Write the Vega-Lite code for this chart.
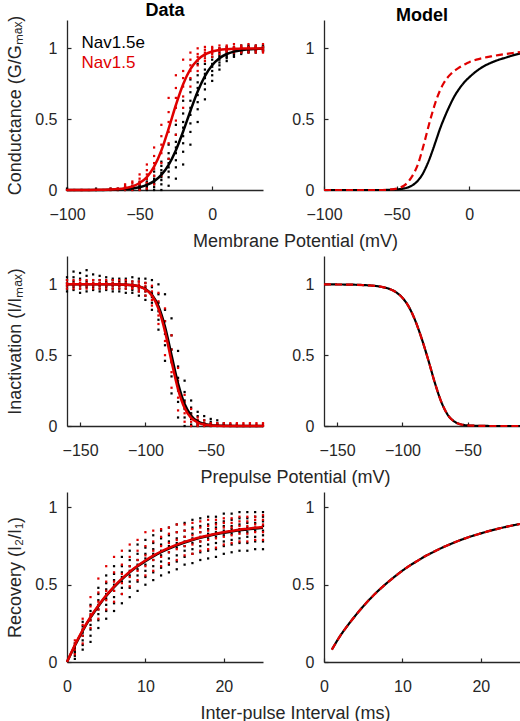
{
"$schema":"https://vega.github.io/schema/vega-lite/v6.json",
"background":"white",
"padding":{"left":5,"top":2,"right":0,"bottom":0},
"columns":2,
"spacing":{"row":66,"column":61},
"bounds":"flush",
"datasets":{
"cde":[{"x":-100,"y":0},{"x":-100,"y":0.01},{"x":-95,"y":0},{"x":-90,"y":0},{"x":-85,"y":0},{"x":-80,"y":0},{"x":-80,"y":0.01},{"x":-75,"y":0},{"x":-70,"y":0},{"x":-70,"y":0.01},{"x":-65,"y":0},{"x":-65,"y":0.01},{"x":-60,"y":0},{"x":-60,"y":0.01},{"x":-60,"y":0.02},
{"x":-55,"y":0},{"x":-55,"y":0.005},{"x":-55,"y":0.01},{"x":-55,"y":0.015},{"x":-55,"y":0.03},
{"x":-50,"y":0},{"x":-50,"y":0.005},{"x":-50,"y":0.01},{"x":-50,"y":0.015},{"x":-50,"y":0.025},{"x":-50,"y":0.03},{"x":-50,"y":0.04},{"x":-50,"y":0.055},
{"x":-45,"y":0},{"x":-45,"y":0.01},{"x":-45,"y":0.02},{"x":-45,"y":0.03},{"x":-45,"y":0.04},{"x":-45,"y":0.05},{"x":-45,"y":0.06},{"x":-45,"y":0.08},
{"x":-40,"y":0},{"x":-40,"y":0.02},{"x":-40,"y":0.04},{"x":-40,"y":0.05},{"x":-40,"y":0.07},{"x":-40,"y":0.08},{"x":-40,"y":0.1},{"x":-40,"y":0.13},
{"x":-35,"y":0},{"x":-35,"y":0.04},{"x":-35,"y":0.07},{"x":-35,"y":0.09},{"x":-35,"y":0.12},{"x":-35,"y":0.14},{"x":-35,"y":0.17},{"x":-35,"y":0.2},
{"x":-30,"y":0.03},{"x":-30,"y":0.09},{"x":-30,"y":0.13},{"x":-30,"y":0.16},{"x":-30,"y":0.19},{"x":-30,"y":0.22},{"x":-30,"y":0.26},{"x":-30,"y":0.32},
{"x":-25,"y":0.08},{"x":-25,"y":0.16},{"x":-25,"y":0.21},{"x":-25,"y":0.26},{"x":-25,"y":0.3},{"x":-25,"y":0.34},{"x":-25,"y":0.39},{"x":-25,"y":0.46},
{"x":-20,"y":0.18},{"x":-20,"y":0.27},{"x":-20,"y":0.33},{"x":-20,"y":0.38},{"x":-20,"y":0.44},{"x":-20,"y":0.48},{"x":-20,"y":0.54},{"x":-20,"y":0.63},
{"x":-15,"y":0.32},{"x":-15,"y":0.41},{"x":-15,"y":0.47},{"x":-15,"y":0.53},{"x":-15,"y":0.58},{"x":-15,"y":0.63},{"x":-15,"y":0.69},{"x":-15,"y":0.78},
{"x":-10,"y":0.48},{"x":-10,"y":0.57},{"x":-10,"y":0.62},{"x":-10,"y":0.67},{"x":-10,"y":0.72},{"x":-10,"y":0.76},{"x":-10,"y":0.81},{"x":-10,"y":0.89},
{"x":-5,"y":0.64},{"x":-5,"y":0.71},{"x":-5,"y":0.75},{"x":-5,"y":0.79},{"x":-5,"y":0.82},{"x":-5,"y":0.85},{"x":-5,"y":0.89},{"x":-5,"y":0.95},
{"x":0,"y":0.77},{"x":0,"y":0.81},{"x":0,"y":0.84},{"x":0,"y":0.87},{"x":0,"y":0.89},{"x":0,"y":0.92},{"x":0,"y":0.94},{"x":0,"y":0.98},
{"x":5,"y":0.85},{"x":5,"y":0.88},{"x":5,"y":0.9},{"x":5,"y":0.92},{"x":5,"y":0.94},{"x":5,"y":0.95},{"x":5,"y":0.97},{"x":5,"y":1.0},
{"x":10,"y":0.91},{"x":10,"y":0.93},{"x":10,"y":0.94},{"x":10,"y":0.95},{"x":10,"y":0.97},{"x":10,"y":0.98},{"x":10,"y":0.99},{"x":10,"y":1.01},
{"x":15,"y":0.94},{"x":15,"y":0.95},{"x":15,"y":0.96},{"x":15,"y":0.97},{"x":15,"y":0.98},{"x":15,"y":0.99},{"x":15,"y":1.0},{"x":15,"y":1.01},
{"x":20,"y":0.96},{"x":20,"y":0.97},{"x":20,"y":0.975},{"x":20,"y":0.98},{"x":20,"y":0.99},{"x":20,"y":1.0},{"x":20,"y":1.005},{"x":20,"y":1.02},
{"x":25,"y":0.97},{"x":25,"y":0.975},{"x":25,"y":0.98},{"x":25,"y":0.99},{"x":25,"y":1.0},{"x":25,"y":1.005},{"x":25,"y":1.01},{"x":25,"y":1.02},
{"x":30,"y":0.97},{"x":30,"y":0.98},{"x":30,"y":0.99},{"x":30,"y":0.995},{"x":30,"y":1.0},{"x":30,"y":1.005},{"x":30,"y":1.01},{"x":30,"y":1.02},
{"x":35,"y":0.98},{"x":35,"y":0.985},{"x":35,"y":0.99},{"x":35,"y":1.0},{"x":35,"y":1.005},{"x":35,"y":1.01},{"x":35,"y":1.015},{"x":35,"y":1.02}],
"cdw":[{"x":-100,"y":0},{"x":-90,"y":0},{"x":-80,"y":0},{"x":-70,"y":0},{"x":-70,"y":0.01},{"x":-65,"y":0},{"x":-65,"y":0.01},
{"x":-60,"y":0},{"x":-60,"y":0.005},{"x":-60,"y":0.01},{"x":-60,"y":0.02},{"x":-60,"y":0.03},{"x":-60,"y":0.04},
{"x":-55,"y":0},{"x":-55,"y":0.01},{"x":-55,"y":0.02},{"x":-55,"y":0.03},{"x":-55,"y":0.05},{"x":-55,"y":0.06},
{"x":-50,"y":0},{"x":-50,"y":0.02},{"x":-50,"y":0.04},{"x":-50,"y":0.06},{"x":-50,"y":0.08},{"x":-50,"y":0.11},
{"x":-45,"y":0.01},{"x":-45,"y":0.05},{"x":-45,"y":0.08},{"x":-45,"y":0.11},{"x":-45,"y":0.14},{"x":-45,"y":0.18},
{"x":-40,"y":0.04},{"x":-40,"y":0.1},{"x":-40,"y":0.15},{"x":-40,"y":0.19},{"x":-40,"y":0.24},{"x":-40,"y":0.3},
{"x":-35,"y":0.1},{"x":-35,"y":0.19},{"x":-35,"y":0.26},{"x":-35,"y":0.32},{"x":-35,"y":0.38},{"x":-35,"y":0.46},
{"x":-30,"y":0.22},{"x":-30,"y":0.33},{"x":-30,"y":0.41},{"x":-30,"y":0.48},{"x":-30,"y":0.55},{"x":-30,"y":0.65},
{"x":-25,"y":0.39},{"x":-25,"y":0.49},{"x":-25,"y":0.58},{"x":-25,"y":0.65},{"x":-25,"y":0.72},{"x":-25,"y":0.81},
{"x":-20,"y":0.58},{"x":-20,"y":0.66},{"x":-20,"y":0.73},{"x":-20,"y":0.79},{"x":-20,"y":0.84},{"x":-20,"y":0.92},
{"x":-15,"y":0.73},{"x":-15,"y":0.79},{"x":-15,"y":0.84},{"x":-15,"y":0.88},{"x":-15,"y":0.92},{"x":-15,"y":0.97},
{"x":-10,"y":0.84},{"x":-10,"y":0.88},{"x":-10,"y":0.91},{"x":-10,"y":0.94},{"x":-10,"y":0.96},{"x":-10,"y":1.0},
{"x":-5,"y":0.91},{"x":-5,"y":0.93},{"x":-5,"y":0.95},{"x":-5,"y":0.97},{"x":-5,"y":0.99},{"x":-5,"y":1.01},
{"x":0,"y":0.94},{"x":0,"y":0.96},{"x":0,"y":0.97},{"x":0,"y":0.99},{"x":0,"y":1.0},{"x":0,"y":1.01},
{"x":5,"y":0.96},{"x":5,"y":0.98},{"x":5,"y":0.99},{"x":5,"y":0.995},{"x":5,"y":1.0},{"x":5,"y":1.02},
{"x":10,"y":0.97},{"x":10,"y":0.98},{"x":10,"y":0.99},{"x":10,"y":1.0},{"x":10,"y":1.01},{"x":10,"y":1.02},
{"x":15,"y":0.97},{"x":15,"y":0.98},{"x":15,"y":0.99},{"x":15,"y":1.0},{"x":15,"y":1.01},{"x":15,"y":1.03},
{"x":20,"y":0.97},{"x":20,"y":0.98},{"x":20,"y":0.99},{"x":20,"y":1.0},{"x":20,"y":1.01},{"x":20,"y":1.02},
{"x":25,"y":0.97},{"x":25,"y":0.98},{"x":25,"y":0.99},{"x":25,"y":1.0},{"x":25,"y":1.01},{"x":25,"y":1.03},
{"x":30,"y":0.97},{"x":30,"y":0.98},{"x":30,"y":0.99},{"x":30,"y":1.0},{"x":30,"y":1.01},{"x":30,"y":1.02},
{"x":35,"y":0.97},{"x":35,"y":0.98},{"x":35,"y":0.99},{"x":35,"y":1.0},{"x":35,"y":1.01},{"x":35,"y":1.03}],
"cf":[{"x":-100,"y":0,"c":"e"},{"x":-90,"y":0.0002,"c":"e"},{"x":-80,"y":0.0006,"c":"e"},{"x":-70,"y":0.0019,"c":"e"},{"x":-65,"y":0.0035,"c":"e"},{"x":-60,"y":0.0063,"c":"e"},{"x":-55,"y":0.0113,"c":"e"},{"x":-50,"y":0.02,"c":"e"},{"x":-45,"y":0.036,"c":"e"},{"x":-40,"y":0.0625,"c":"e"},{"x":-35,"y":0.107,"c":"e"},{"x":-30,"y":0.178,"c":"e"},{"x":-25,"y":0.281,"c":"e"},{"x":-20,"y":0.413,"c":"e"},{"x":-15,"y":0.558,"c":"e"},{"x":-10,"y":0.695,"c":"e"},{"x":-5,"y":0.804,"c":"e"},{"x":0,"y":0.881,"c":"e"},{"x":5,"y":0.93,"c":"e"},{"x":10,"y":0.96,"c":"e"},{"x":15,"y":0.977,"c":"e"},{"x":20,"y":0.987,"c":"e"},{"x":25,"y":0.993,"c":"e"},{"x":30,"y":0.996,"c":"e"},{"x":35,"y":0.998,"c":"e"},
{"x":-100,"y":0.0001,"c":"w"},{"x":-90,"y":0.0002,"c":"w"},{"x":-80,"y":0.0009,"c":"w"},{"x":-70,"y":0.0034,"c":"w"},{"x":-65,"y":0.0067,"c":"w"},{"x":-60,"y":0.013,"c":"w"},{"x":-55,"y":0.025,"c":"w"},{"x":-50,"y":0.049,"c":"w"},{"x":-45,"y":0.091,"c":"w"},{"x":-40,"y":0.165,"c":"w"},{"x":-35,"y":0.279,"c":"w"},{"x":-30,"y":0.433,"c":"w"},{"x":-25,"y":0.6,"c":"w"},{"x":-20,"y":0.747,"c":"w"},{"x":-15,"y":0.853,"c":"w"},{"x":-10,"y":0.919,"c":"w"},{"x":-5,"y":0.957,"c":"w"},{"x":0,"y":0.978,"c":"w"},{"x":5,"y":0.989,"c":"w"},{"x":10,"y":0.994,"c":"w"},{"x":15,"y":0.997,"c":"w"},{"x":20,"y":0.998,"c":"w"},{"x":25,"y":0.999,"c":"w"},{"x":30,"y":0.999,"c":"w"},{"x":35,"y":0.999,"c":"w"}],
"cm":[{"x":-100,"y":0,"c":"e"},{"x":-80,"y":0,"c":"e"},{"x":-60,"y":0,"c":"e"},{"x":-55,"y":0.001,"c":"e"},{"x":-50,"y":0.004,"c":"e"},{"x":-45,"y":0.011,"c":"e"},{"x":-40,"y":0.028,"c":"e"},{"x":-37.5,"y":0.045,"c":"e"},{"x":-35,"y":0.07,"c":"e"},{"x":-32.5,"y":0.105,"c":"e"},{"x":-30,"y":0.155,"c":"e"},{"x":-27.5,"y":0.215,"c":"e"},{"x":-25,"y":0.285,"c":"e"},{"x":-22.5,"y":0.36,"c":"e"},{"x":-20,"y":0.435,"c":"e"},{"x":-17.5,"y":0.5,"c":"e"},{"x":-15,"y":0.56,"c":"e"},{"x":-12.5,"y":0.615,"c":"e"},{"x":-10,"y":0.665,"c":"e"},{"x":-7.5,"y":0.705,"c":"e"},{"x":-5,"y":0.74,"c":"e"},{"x":-2.5,"y":0.77,"c":"e"},{"x":0,"y":0.795,"c":"e"},{"x":5,"y":0.839,"c":"e"},{"x":10,"y":0.873,"c":"e"},{"x":15,"y":0.898,"c":"e"},{"x":20,"y":0.918,"c":"e"},{"x":25,"y":0.934,"c":"e"},{"x":30,"y":0.95,"c":"e"},{"x":35,"y":0.963,"c":"e"},
{"x":-100,"y":0,"c":"w"},{"x":-80,"y":0,"c":"w"},{"x":-60,"y":0,"c":"w"},{"x":-55,"y":0.003,"c":"w"},{"x":-50,"y":0.01,"c":"w"},{"x":-45,"y":0.03,"c":"w"},{"x":-42.5,"y":0.052,"c":"w"},{"x":-40,"y":0.085,"c":"w"},{"x":-37.5,"y":0.13,"c":"w"},{"x":-35,"y":0.19,"c":"w"},{"x":-32.5,"y":0.275,"c":"w"},{"x":-30,"y":0.37,"c":"w"},{"x":-27.5,"y":0.47,"c":"w"},{"x":-25,"y":0.56,"c":"w"},{"x":-22.5,"y":0.64,"c":"w"},{"x":-20,"y":0.705,"c":"w"},{"x":-17.5,"y":0.755,"c":"w"},{"x":-15,"y":0.792,"c":"w"},{"x":-12.5,"y":0.82,"c":"w"},{"x":-10,"y":0.842,"c":"w"},{"x":-7.5,"y":0.86,"c":"w"},{"x":-5,"y":0.876,"c":"w"},{"x":-2.5,"y":0.89,"c":"w"},{"x":0,"y":0.902,"c":"w"},{"x":5,"y":0.92,"c":"w"},{"x":10,"y":0.933,"c":"w"},{"x":15,"y":0.943,"c":"w"},{"x":20,"y":0.952,"c":"w"},{"x":25,"y":0.96,"c":"w"},{"x":30,"y":0.967,"c":"w"},{"x":35,"y":0.974,"c":"w"}],
"lg":[{"x":-90,"y":1.0,"t":"Nav1.5e","c":"e"},{"x":-90,"y":0.86,"t":"Nav1.5","c":"w"}],
"ide":[{"x":-160,"y":0.95},{"x":-160,"y":0.97},{"x":-160,"y":0.99},{"x":-160,"y":1.01},{"x":-160,"y":1.03},{"x":-160,"y":1.05},
{"x":-155,"y":0.96},{"x":-155,"y":0.98},{"x":-155,"y":1.0},{"x":-155,"y":1.02},{"x":-155,"y":1.05},{"x":-155,"y":1.09},
{"x":-150,"y":0.94},{"x":-150,"y":0.97},{"x":-150,"y":0.99},{"x":-150,"y":1.01},{"x":-150,"y":1.04},{"x":-150,"y":1.08},
{"x":-145,"y":0.95},{"x":-145,"y":0.98},{"x":-145,"y":1.0},{"x":-145,"y":1.02},{"x":-145,"y":1.06},{"x":-145,"y":1.1},
{"x":-140,"y":0.96},{"x":-140,"y":0.98},{"x":-140,"y":1.0},{"x":-140,"y":1.01},{"x":-140,"y":1.03},{"x":-140,"y":1.07},
{"x":-135,"y":0.95},{"x":-135,"y":0.97},{"x":-135,"y":0.99},{"x":-135,"y":1.01},{"x":-135,"y":1.03},{"x":-135,"y":1.06},
{"x":-130,"y":0.96},{"x":-130,"y":0.98},{"x":-130,"y":0.99},{"x":-130,"y":1.01},{"x":-130,"y":1.02},{"x":-130,"y":1.05},
{"x":-125,"y":0.95},{"x":-125,"y":0.97},{"x":-125,"y":0.99},{"x":-125,"y":1.01},{"x":-125,"y":1.03},{"x":-125,"y":1.04},
{"x":-120,"y":0.95},{"x":-120,"y":0.97},{"x":-120,"y":0.99},{"x":-120,"y":1.0},{"x":-120,"y":1.02},{"x":-120,"y":1.04},
{"x":-115,"y":0.94},{"x":-115,"y":0.97},{"x":-115,"y":0.99},{"x":-115,"y":1.0},{"x":-115,"y":1.02},{"x":-115,"y":1.04},
{"x":-110,"y":0.94},{"x":-110,"y":0.96},{"x":-110,"y":0.98},{"x":-110,"y":1.0},{"x":-110,"y":1.02},{"x":-110,"y":1.05},
{"x":-105,"y":0.92},{"x":-105,"y":0.95},{"x":-105,"y":0.97},{"x":-105,"y":0.99},{"x":-105,"y":1.02},{"x":-105,"y":1.04},
{"x":-100,"y":0.89},{"x":-100,"y":0.92},{"x":-100,"y":0.95},{"x":-100,"y":0.98},{"x":-100,"y":1.01},{"x":-100,"y":1.04},
{"x":-95,"y":0.82},{"x":-95,"y":0.87},{"x":-95,"y":0.91},{"x":-95,"y":0.94},{"x":-95,"y":0.98},{"x":-95,"y":1.03},
{"x":-90,"y":0.68},{"x":-90,"y":0.75},{"x":-90,"y":0.81},{"x":-90,"y":0.87},{"x":-90,"y":0.93},{"x":-90,"y":1.0},
{"x":-85,"y":0.46},{"x":-85,"y":0.57},{"x":-85,"y":0.65},{"x":-85,"y":0.74},{"x":-85,"y":0.82},{"x":-85,"y":0.93},
{"x":-80,"y":0.23},{"x":-80,"y":0.35},{"x":-80,"y":0.45},{"x":-80,"y":0.54},{"x":-80,"y":0.64},{"x":-80,"y":0.76},
{"x":-75,"y":0.06},{"x":-75,"y":0.17},{"x":-75,"y":0.25},{"x":-75,"y":0.34},{"x":-75,"y":0.42},{"x":-75,"y":0.53},
{"x":-70,"y":0},{"x":-70,"y":0.06},{"x":-70,"y":0.12},{"x":-70,"y":0.18},{"x":-70,"y":0.24},{"x":-70,"y":0.32},
{"x":-65,"y":0},{"x":-65,"y":0.01},{"x":-65,"y":0.05},{"x":-65,"y":0.09},{"x":-65,"y":0.13},{"x":-65,"y":0.18},
{"x":-60,"y":0},{"x":-60,"y":0.01},{"x":-60,"y":0.02},{"x":-60,"y":0.04},{"x":-60,"y":0.07},{"x":-60,"y":0.1},
{"x":-55,"y":0},{"x":-55,"y":0.005},{"x":-55,"y":0.01},{"x":-55,"y":0.02},{"x":-55,"y":0.04},{"x":-55,"y":0.07},
{"x":-50,"y":0},{"x":-50,"y":0.005},{"x":-50,"y":0.01},{"x":-50,"y":0.015},{"x":-50,"y":0.03},{"x":-50,"y":0.05},
{"x":-45,"y":0},{"x":-45,"y":0.005},{"x":-45,"y":0.01},{"x":-45,"y":0.02},{"x":-45,"y":0.04},
{"x":-40,"y":0},{"x":-40,"y":0.01},{"x":-40,"y":0.02},{"x":-35,"y":0},{"x":-35,"y":0.01},{"x":-30,"y":0},{"x":-30,"y":0.01},{"x":-25,"y":0},{"x":-20,"y":0},{"x":-15,"y":0},{"x":-10,"y":0}],
"idw":[{"x":-160,"y":0.97},{"x":-160,"y":0.99},{"x":-160,"y":1.0},{"x":-160,"y":1.01},{"x":-160,"y":1.03},
{"x":-155,"y":0.97},{"x":-155,"y":0.99},{"x":-155,"y":1.0},{"x":-155,"y":1.01},{"x":-155,"y":1.03},
{"x":-150,"y":0.97},{"x":-150,"y":0.99},{"x":-150,"y":1.0},{"x":-150,"y":1.01},{"x":-150,"y":1.03},
{"x":-145,"y":0.97},{"x":-145,"y":0.99},{"x":-145,"y":1.0},{"x":-145,"y":1.01},{"x":-145,"y":1.03},
{"x":-140,"y":0.97},{"x":-140,"y":0.99},{"x":-140,"y":1.0},{"x":-140,"y":1.01},{"x":-140,"y":1.03},
{"x":-135,"y":0.97},{"x":-135,"y":0.99},{"x":-135,"y":1.0},{"x":-135,"y":1.01},{"x":-135,"y":1.03},
{"x":-130,"y":0.97},{"x":-130,"y":0.99},{"x":-130,"y":1.0},{"x":-130,"y":1.01},{"x":-130,"y":1.03},
{"x":-125,"y":0.97},{"x":-125,"y":0.99},{"x":-125,"y":1.0},{"x":-125,"y":1.01},{"x":-125,"y":1.03},
{"x":-120,"y":0.97},{"x":-120,"y":0.99},{"x":-120,"y":1.0},{"x":-120,"y":1.01},{"x":-120,"y":1.03},
{"x":-115,"y":0.97},{"x":-115,"y":0.99},{"x":-115,"y":1.0},{"x":-115,"y":1.01},{"x":-115,"y":1.03},
{"x":-110,"y":0.97},{"x":-110,"y":0.98},{"x":-110,"y":0.99},{"x":-110,"y":1.0},{"x":-110,"y":1.02},
{"x":-105,"y":0.95},{"x":-105,"y":0.97},{"x":-105,"y":0.985},{"x":-105,"y":1.0},{"x":-105,"y":1.02},
{"x":-100,"y":0.92},{"x":-100,"y":0.95},{"x":-100,"y":0.97},{"x":-100,"y":0.99},{"x":-100,"y":1.01},
{"x":-95,"y":0.85},{"x":-95,"y":0.89},{"x":-95,"y":0.92},{"x":-95,"y":0.95},{"x":-95,"y":0.99},
{"x":-90,"y":0.72},{"x":-90,"y":0.78},{"x":-90,"y":0.83},{"x":-90,"y":0.88},{"x":-90,"y":0.94},
{"x":-85,"y":0.5},{"x":-85,"y":0.6},{"x":-85,"y":0.67},{"x":-85,"y":0.74},{"x":-85,"y":0.83},
{"x":-80,"y":0.27},{"x":-80,"y":0.38},{"x":-80,"y":0.46},{"x":-80,"y":0.54},{"x":-80,"y":0.64},
{"x":-75,"y":0.11},{"x":-75,"y":0.2},{"x":-75,"y":0.26},{"x":-75,"y":0.32},{"x":-75,"y":0.41},
{"x":-70,"y":0.03},{"x":-70,"y":0.09},{"x":-70,"y":0.13},{"x":-70,"y":0.17},{"x":-70,"y":0.22},
{"x":-65,"y":0},{"x":-65,"y":0.03},{"x":-65,"y":0.06},{"x":-65,"y":0.08},{"x":-65,"y":0.12},
{"x":-60,"y":0},{"x":-60,"y":0.01},{"x":-60,"y":0.02},{"x":-60,"y":0.04},{"x":-60,"y":0.06},
{"x":-55,"y":0},{"x":-55,"y":0.005},{"x":-55,"y":0.01},{"x":-55,"y":0.02},{"x":-55,"y":0.04},
{"x":-50,"y":0},{"x":-50,"y":0.01},{"x":-50,"y":0.02},{"x":-45,"y":0},{"x":-45,"y":0.01},{"x":-45,"y":0.02},{"x":-40,"y":0},{"x":-40,"y":0.01},{"x":-40,"y":0.02},{"x":-35,"y":0},{"x":-35,"y":0.01},{"x":-35,"y":0.02},{"x":-30,"y":0},{"x":-30,"y":0.01},{"x":-30,"y":0.02},{"x":-25,"y":0},{"x":-25,"y":0.01},{"x":-25,"y":0.02},{"x":-20,"y":0},{"x":-20,"y":0.01},{"x":-20,"y":0.02},{"x":-15,"y":0},{"x":-15,"y":0.01},{"x":-15,"y":0.02},{"x":-10,"y":0},{"x":-10,"y":0.01},{"x":-10,"y":0.02}],
"if":[{"x":-160,"y":1,"c":"e"},{"x":-140,"y":1,"c":"e"},{"x":-130,"y":0.9998,"c":"e"},{"x":-120,"y":0.9989,"c":"e"},{"x":-115,"y":0.9973,"c":"e"},{"x":-110,"y":0.9938,"c":"e"},{"x":-105,"y":0.9858,"c":"e"},{"x":-100,"y":0.9674,"c":"e"},{"x":-95,"y":0.927,"c":"e"},{"x":-90,"y":0.845,"c":"e"},{"x":-85,"y":0.7,"c":"e"},{"x":-80,"y":0.5,"c":"e"},{"x":-75,"y":0.3,"c":"e"},{"x":-70,"y":0.155,"c":"e"},{"x":-65,"y":0.073,"c":"e"},{"x":-60,"y":0.0326,"c":"e"},{"x":-55,"y":0.0143,"c":"e"},{"x":-50,"y":0.0062,"c":"e"},{"x":-45,"y":0.0027,"c":"e"},{"x":-40,"y":0.0011,"c":"e"},{"x":-30,"y":0.0002,"c":"e"},{"x":-20,"y":0,"c":"e"},{"x":-10,"y":0,"c":"e"},
{"x":-160,"y":1,"c":"w"},{"x":-140,"y":1,"c":"w"},{"x":-130,"y":0.9998,"c":"w"},{"x":-120,"y":0.9989,"c":"w"},{"x":-115,"y":0.9974,"c":"w"},{"x":-110,"y":0.9939,"c":"w"},{"x":-105,"y":0.9854,"c":"w"},{"x":-100,"y":0.9655,"c":"w"},{"x":-95,"y":0.921,"c":"w"},{"x":-90,"y":0.829,"c":"w"},{"x":-85,"y":0.668,"c":"w"},{"x":-80,"y":0.456,"c":"w"},{"x":-75,"y":0.259,"c":"w"},{"x":-70,"y":0.127,"c":"w"},{"x":-65,"y":0.057,"c":"w"},{"x":-60,"y":0.0245,"c":"w"},{"x":-55,"y":0.0103,"c":"w"},{"x":-50,"y":0.0043,"c":"w"},{"x":-45,"y":0.0018,"c":"w"},{"x":-40,"y":0.0008,"c":"w"},{"x":-30,"y":0.0001,"c":"w"},{"x":-20,"y":0,"c":"w"},{"x":-10,"y":0,"c":"w"}],
"im":[{"x":-160,"y":1.0,"c":"e"},{"x":-150,"y":0.999,"c":"e"},{"x":-140,"y":0.998,"c":"e"},{"x":-130,"y":0.995,"c":"e"},{"x":-120,"y":0.988,"c":"e"},{"x":-115,"y":0.98,"c":"e"},{"x":-110,"y":0.968,"c":"e"},{"x":-105,"y":0.945,"c":"e"},{"x":-100,"y":0.905,"c":"e"},{"x":-95,"y":0.84,"c":"e"},{"x":-90,"y":0.74,"c":"e"},{"x":-85,"y":0.61,"c":"e"},{"x":-80,"y":0.46,"c":"e"},{"x":-75,"y":0.3,"c":"e"},{"x":-70,"y":0.165,"c":"e"},{"x":-65,"y":0.075,"c":"e"},{"x":-60,"y":0.03,"c":"e"},{"x":-55,"y":0.011,"c":"e"},{"x":-50,"y":0.004,"c":"e"},{"x":-40,"y":0.001,"c":"e"},{"x":-30,"y":0,"c":"e"},{"x":-10,"y":0,"c":"e"},
{"x":-160,"y":1.0,"c":"w"},{"x":-150,"y":0.999,"c":"w"},{"x":-140,"y":0.998,"c":"w"},{"x":-130,"y":0.995,"c":"w"},{"x":-120,"y":0.988,"c":"w"},{"x":-115,"y":0.98,"c":"w"},{"x":-110,"y":0.968,"c":"w"},{"x":-105,"y":0.945,"c":"w"},{"x":-100,"y":0.905,"c":"w"},{"x":-95,"y":0.84,"c":"w"},{"x":-90,"y":0.74,"c":"w"},{"x":-85,"y":0.61,"c":"w"},{"x":-80,"y":0.46,"c":"w"},{"x":-75,"y":0.3,"c":"w"},{"x":-70,"y":0.165,"c":"w"},{"x":-65,"y":0.075,"c":"w"},{"x":-60,"y":0.03,"c":"w"},{"x":-55,"y":0.011,"c":"w"},{"x":-50,"y":0.004,"c":"w"},{"x":-40,"y":0.001,"c":"w"},{"x":-30,"y":0,"c":"w"},{"x":-10,"y":0,"c":"w"}],
"rde":[{"x":1,"y":0.02},{"x":1,"y":0.04},{"x":1,"y":0.06},{"x":1,"y":0.07},{"x":1,"y":0.08},{"x":1,"y":0.09},{"x":1,"y":0.1},{"x":1,"y":0.12},
{"x":2,"y":0.08},{"x":2,"y":0.11},{"x":2,"y":0.14},{"x":2,"y":0.17},{"x":2,"y":0.19},{"x":2,"y":0.21},{"x":2,"y":0.23},{"x":2,"y":0.26},
{"x":3,"y":0.13},{"x":3,"y":0.17},{"x":3,"y":0.21},{"x":3,"y":0.24},{"x":3,"y":0.27},{"x":3,"y":0.3},{"x":3,"y":0.33},{"x":3,"y":0.37},
{"x":4,"y":0.22},{"x":4,"y":0.27},{"x":4,"y":0.31},{"x":4,"y":0.34},{"x":4,"y":0.37},{"x":4,"y":0.4},{"x":4,"y":0.44},{"x":4,"y":0.48},
{"x":5,"y":0.28},{"x":5,"y":0.33},{"x":5,"y":0.37},{"x":5,"y":0.41},{"x":5,"y":0.44},{"x":5,"y":0.47},{"x":5,"y":0.51},{"x":5,"y":0.56},
{"x":6,"y":0.33},{"x":6,"y":0.38},{"x":6,"y":0.42},{"x":6,"y":0.46},{"x":6,"y":0.5},{"x":6,"y":0.53},{"x":6,"y":0.57},{"x":6,"y":0.62},
{"x":7,"y":0.38},{"x":7,"y":0.44},{"x":7,"y":0.48},{"x":7,"y":0.52},{"x":7,"y":0.55},{"x":7,"y":0.58},{"x":7,"y":0.62},{"x":7,"y":0.68},
{"x":8,"y":0.42},{"x":8,"y":0.48},{"x":8,"y":0.52},{"x":8,"y":0.56},{"x":8,"y":0.59},{"x":8,"y":0.62},{"x":8,"y":0.66},{"x":8,"y":0.72},
{"x":9,"y":0.46},{"x":9,"y":0.52},{"x":9,"y":0.56},{"x":9,"y":0.6},{"x":9,"y":0.63},{"x":9,"y":0.66},{"x":9,"y":0.7},{"x":9,"y":0.76},
{"x":10,"y":0.5},{"x":10,"y":0.55},{"x":10,"y":0.59},{"x":10,"y":0.63},{"x":10,"y":0.67},{"x":10,"y":0.7},{"x":10,"y":0.74},{"x":10,"y":0.79},
{"x":11,"y":0.53},{"x":11,"y":0.58},{"x":11,"y":0.62},{"x":11,"y":0.66},{"x":11,"y":0.7},{"x":11,"y":0.73},{"x":11,"y":0.77},{"x":11,"y":0.82},
{"x":12,"y":0.56},{"x":12,"y":0.61},{"x":12,"y":0.65},{"x":12,"y":0.69},{"x":12,"y":0.72},{"x":12,"y":0.76},{"x":12,"y":0.8},{"x":12,"y":0.85},
{"x":13,"y":0.58},{"x":13,"y":0.63},{"x":13,"y":0.67},{"x":13,"y":0.71},{"x":13,"y":0.75},{"x":13,"y":0.78},{"x":13,"y":0.82},{"x":13,"y":0.87},
{"x":14,"y":0.6},{"x":14,"y":0.65},{"x":14,"y":0.69},{"x":14,"y":0.74},{"x":14,"y":0.77},{"x":14,"y":0.8},{"x":14,"y":0.84},{"x":14,"y":0.89},
{"x":15,"y":0.63},{"x":15,"y":0.68},{"x":15,"y":0.72},{"x":15,"y":0.75},{"x":15,"y":0.78},{"x":15,"y":0.81},{"x":15,"y":0.85},{"x":15,"y":0.9},
{"x":16,"y":0.64},{"x":16,"y":0.7},{"x":16,"y":0.73},{"x":16,"y":0.77},{"x":16,"y":0.8},{"x":16,"y":0.83},{"x":16,"y":0.87},{"x":16,"y":0.92},
{"x":17,"y":0.66},{"x":17,"y":0.71},{"x":17,"y":0.75},{"x":17,"y":0.78},{"x":17,"y":0.81},{"x":17,"y":0.84},{"x":17,"y":0.88},{"x":17,"y":0.93},
{"x":18,"y":0.67},{"x":18,"y":0.72},{"x":18,"y":0.76},{"x":18,"y":0.8},{"x":18,"y":0.83},{"x":18,"y":0.86},{"x":18,"y":0.89},{"x":18,"y":0.94},
{"x":19,"y":0.68},{"x":19,"y":0.73},{"x":19,"y":0.77},{"x":19,"y":0.81},{"x":19,"y":0.84},{"x":19,"y":0.87},{"x":19,"y":0.9},{"x":19,"y":0.94},
{"x":20,"y":0.7},{"x":20,"y":0.75},{"x":20,"y":0.78},{"x":20,"y":0.82},{"x":20,"y":0.85},{"x":20,"y":0.88},{"x":20,"y":0.91},{"x":20,"y":0.96},
{"x":21,"y":0.71},{"x":21,"y":0.76},{"x":21,"y":0.79},{"x":21,"y":0.83},{"x":21,"y":0.86},{"x":21,"y":0.88},{"x":21,"y":0.92},{"x":21,"y":0.96},
{"x":22,"y":0.72},{"x":22,"y":0.77},{"x":22,"y":0.8},{"x":22,"y":0.84},{"x":22,"y":0.86},{"x":22,"y":0.89},{"x":22,"y":0.93},{"x":22,"y":0.97},
{"x":23,"y":0.72},{"x":23,"y":0.77},{"x":23,"y":0.81},{"x":23,"y":0.84},{"x":23,"y":0.87},{"x":23,"y":0.9},{"x":23,"y":0.93},{"x":23,"y":0.97},
{"x":24,"y":0.73},{"x":24,"y":0.78},{"x":24,"y":0.81},{"x":24,"y":0.85},{"x":24,"y":0.87},{"x":24,"y":0.9},{"x":24,"y":0.94},{"x":24,"y":0.97},
{"x":25,"y":0.73},{"x":25,"y":0.78},{"x":25,"y":0.82},{"x":25,"y":0.85},{"x":25,"y":0.88},{"x":25,"y":0.91},{"x":25,"y":0.94},{"x":25,"y":0.97}],
"rdw":[{"x":1,"y":0.05},{"x":1,"y":0.08},{"x":1,"y":0.1},{"x":1,"y":0.12},{"x":1,"y":0.14},
{"x":2,"y":0.12},{"x":2,"y":0.17},{"x":2,"y":0.21},{"x":2,"y":0.24},{"x":2,"y":0.28},
{"x":3,"y":0.22},{"x":3,"y":0.27},{"x":3,"y":0.31},{"x":3,"y":0.36},{"x":3,"y":0.42},
{"x":4,"y":0.28},{"x":4,"y":0.34},{"x":4,"y":0.39},{"x":4,"y":0.45},{"x":4,"y":0.54},
{"x":5,"y":0.34},{"x":5,"y":0.4},{"x":5,"y":0.46},{"x":5,"y":0.52},{"x":5,"y":0.62},
{"x":6,"y":0.39},{"x":6,"y":0.46},{"x":6,"y":0.52},{"x":6,"y":0.58},{"x":6,"y":0.68},
{"x":7,"y":0.44},{"x":7,"y":0.51},{"x":7,"y":0.57},{"x":7,"y":0.63},{"x":7,"y":0.72},
{"x":8,"y":0.49},{"x":8,"y":0.55},{"x":8,"y":0.62},{"x":8,"y":0.68},{"x":8,"y":0.76},
{"x":9,"y":0.53},{"x":9,"y":0.59},{"x":9,"y":0.66},{"x":9,"y":0.72},{"x":9,"y":0.79},
{"x":10,"y":0.56},{"x":10,"y":0.62},{"x":10,"y":0.69},{"x":10,"y":0.75},{"x":10,"y":0.84},
{"x":11,"y":0.59},{"x":11,"y":0.66},{"x":11,"y":0.72},{"x":11,"y":0.78},{"x":11,"y":0.85},
{"x":12,"y":0.62},{"x":12,"y":0.68},{"x":12,"y":0.75},{"x":12,"y":0.81},{"x":12,"y":0.86},
{"x":13,"y":0.64},{"x":13,"y":0.71},{"x":13,"y":0.77},{"x":13,"y":0.83},{"x":13,"y":0.87},
{"x":14,"y":0.66},{"x":14,"y":0.73},{"x":14,"y":0.79},{"x":14,"y":0.84},{"x":14,"y":0.89},
{"x":15,"y":0.69},{"x":15,"y":0.75},{"x":15,"y":0.81},{"x":15,"y":0.85},{"x":15,"y":0.89},
{"x":16,"y":0.7},{"x":16,"y":0.76},{"x":16,"y":0.82},{"x":16,"y":0.86},{"x":16,"y":0.9},
{"x":17,"y":0.72},{"x":17,"y":0.78},{"x":17,"y":0.84},{"x":17,"y":0.87},{"x":17,"y":0.91},
{"x":18,"y":0.73},{"x":18,"y":0.79},{"x":18,"y":0.85},{"x":18,"y":0.88},{"x":18,"y":0.92},
{"x":19,"y":0.74},{"x":19,"y":0.8},{"x":19,"y":0.86},{"x":19,"y":0.89},{"x":19,"y":0.92},
{"x":20,"y":0.76},{"x":20,"y":0.81},{"x":20,"y":0.87},{"x":20,"y":0.9},{"x":20,"y":0.93},
{"x":21,"y":0.77},{"x":21,"y":0.82},{"x":21,"y":0.87},{"x":21,"y":0.9},{"x":21,"y":0.93},
{"x":22,"y":0.78},{"x":22,"y":0.83},{"x":22,"y":0.88},{"x":22,"y":0.91},{"x":22,"y":0.94},
{"x":23,"y":0.78},{"x":23,"y":0.83},{"x":23,"y":0.88},{"x":23,"y":0.91},{"x":23,"y":0.94},
{"x":24,"y":0.79},{"x":24,"y":0.84},{"x":24,"y":0.89},{"x":24,"y":0.92},{"x":24,"y":0.94},
{"x":25,"y":0.79},{"x":25,"y":0.84},{"x":25,"y":0.89},{"x":25,"y":0.92},{"x":25,"y":0.95}],
"rf":[{"x":0,"y":0,"c":"e"},{"x":1,"y":0.105,"c":"e"},{"x":2,"y":0.202,"c":"e"},{"x":3,"y":0.287,"c":"e"},{"x":4,"y":0.361,"c":"e"},{"x":5,"y":0.427,"c":"e"},{"x":6,"y":0.484,"c":"e"},{"x":7,"y":0.535,"c":"e"},{"x":8,"y":0.58,"c":"e"},{"x":9,"y":0.619,"c":"e"},{"x":10,"y":0.653,"c":"e"},{"x":11,"y":0.684,"c":"e"},{"x":12,"y":0.711,"c":"e"},{"x":13,"y":0.734,"c":"e"},{"x":14,"y":0.755,"c":"e"},{"x":15,"y":0.773,"c":"e"},{"x":16,"y":0.789,"c":"e"},{"x":17,"y":0.803,"c":"e"},{"x":18,"y":0.815,"c":"e"},{"x":19,"y":0.826,"c":"e"},{"x":20,"y":0.836,"c":"e"},{"x":21,"y":0.844,"c":"e"},{"x":22,"y":0.852,"c":"e"},{"x":23,"y":0.858,"c":"e"},{"x":24,"y":0.864,"c":"e"},{"x":25,"y":0.869,"c":"e"},
{"x":0,"y":0,"c":"w"},{"x":1,"y":0.109,"c":"w"},{"x":2,"y":0.206,"c":"w"},{"x":3,"y":0.291,"c":"w"},{"x":4,"y":0.365,"c":"w"},{"x":5,"y":0.431,"c":"w"},{"x":6,"y":0.488,"c":"w"},{"x":7,"y":0.539,"c":"w"},{"x":8,"y":0.584,"c":"w"},{"x":9,"y":0.623,"c":"w"},{"x":10,"y":0.657,"c":"w"},{"x":11,"y":0.688,"c":"w"},{"x":12,"y":0.715,"c":"w"},{"x":13,"y":0.738,"c":"w"},{"x":14,"y":0.759,"c":"w"},{"x":15,"y":0.777,"c":"w"},{"x":16,"y":0.793,"c":"w"},{"x":17,"y":0.807,"c":"w"},{"x":18,"y":0.819,"c":"w"},{"x":19,"y":0.83,"c":"w"},{"x":20,"y":0.84,"c":"w"},{"x":21,"y":0.848,"c":"w"},{"x":22,"y":0.856,"c":"w"},{"x":23,"y":0.862,"c":"w"},{"x":24,"y":0.868,"c":"w"},{"x":25,"y":0.873,"c":"w"}],
"rm":[{"x":1,"y":0.08,"c":"e"},{"x":2,"y":0.164,"c":"e"},{"x":3,"y":0.235,"c":"e"},{"x":4,"y":0.3,"c":"e"},{"x":5,"y":0.36,"c":"e"},{"x":6,"y":0.415,"c":"e"},{"x":7,"y":0.465,"c":"e"},{"x":8,"y":0.51,"c":"e"},{"x":9,"y":0.552,"c":"e"},{"x":10,"y":0.591,"c":"e"},{"x":11,"y":0.626,"c":"e"},{"x":12,"y":0.657,"c":"e"},{"x":13,"y":0.687,"c":"e"},{"x":14,"y":0.713,"c":"e"},{"x":15,"y":0.738,"c":"e"},{"x":16,"y":0.76,"c":"e"},{"x":17,"y":0.781,"c":"e"},{"x":18,"y":0.8,"c":"e"},{"x":19,"y":0.817,"c":"e"},{"x":20,"y":0.832,"c":"e"},{"x":21,"y":0.847,"c":"e"},{"x":22,"y":0.86,"c":"e"},{"x":23,"y":0.872,"c":"e"},{"x":24,"y":0.883,"c":"e"},{"x":25,"y":0.893,"c":"e"},
{"x":1,"y":0.08,"c":"w"},{"x":2,"y":0.164,"c":"w"},{"x":3,"y":0.235,"c":"w"},{"x":4,"y":0.3,"c":"w"},{"x":5,"y":0.36,"c":"w"},{"x":6,"y":0.415,"c":"w"},{"x":7,"y":0.465,"c":"w"},{"x":8,"y":0.51,"c":"w"},{"x":9,"y":0.552,"c":"w"},{"x":10,"y":0.591,"c":"w"},{"x":11,"y":0.626,"c":"w"},{"x":12,"y":0.657,"c":"w"},{"x":13,"y":0.687,"c":"w"},{"x":14,"y":0.713,"c":"w"},{"x":15,"y":0.738,"c":"w"},{"x":16,"y":0.76,"c":"w"},{"x":17,"y":0.781,"c":"w"},{"x":18,"y":0.8,"c":"w"},{"x":19,"y":0.817,"c":"w"},{"x":20,"y":0.832,"c":"w"},{"x":21,"y":0.847,"c":"w"},{"x":22,"y":0.86,"c":"w"},{"x":23,"y":0.872,"c":"w"},{"x":24,"y":0.883,"c":"w"},{"x":25,"y":0.893,"c":"w"}]
},
"concat":[
{"width":196,"height":170,"title":"Data",
 "encoding":{
  "x":{"field":"x","type":"quantitative","scale":{"domain":[-100,35],"nice":false,"zero":false},"axis":{"values":[-100,-50,0],"format":"d","title":"Membrane Potential (mV)","titleX":228,"titleY":56,"titleBaseline":"alphabetic"}},
  "y":{"field":"y","type":"quantitative","scale":{"domain":[0,1.2],"nice":false},"axis":{"values":[0,0.5,1],"format":"~g","title":"Conductance (G/Gₘₐₓ)","titleX":-47,"titleY":85,"titleBaseline":"alphabetic"}}},
 "layer":[
  {"data":{"name":"cde"},"mark":{"type":"square","size":5,"opacity":1,"color":"#000000"}},
  {"data":{"name":"cdw"},"mark":{"type":"square","size":5,"opacity":1,"color":"#e00000"}},
  {"data":{"name":"cf"},"mark":{"type":"line","strokeWidth":2.5,"interpolate":"monotone"},"encoding":{"color":{"field":"c","type":"nominal","scale":{"domain":["e","w"],"range":["#000000","#e00000"]},"legend":null}}},
  {"data":{"name":"lg"},"mark":{"type":"text","align":"left","baseline":"alphabetic","fontSize":17,"font":"Liberation Sans"},"encoding":{"text":{"field":"t"},"color":{"field":"c","type":"nominal","scale":{"domain":["e","w"],"range":["#000000","#e00000"]},"legend":null}}}
 ]},
{"width":196,"height":170,"title":"Model",
 "encoding":{
  "x":{"field":"x","type":"quantitative","scale":{"domain":[-100,35],"nice":false,"zero":false},"axis":{"values":[-100,-50,0],"format":"d","title":null}},
  "y":{"field":"y","type":"quantitative","scale":{"domain":[0,1.2],"nice":false},"axis":{"values":[0,0.5,1],"format":"~g","title":null}}},
 "layer":[
  {"data":{"name":"cm"},"mark":{"type":"line","strokeWidth":2.2,"interpolate":"monotone"},"encoding":{"color":{"field":"c","type":"nominal","scale":{"domain":["e","w"],"range":["#000000","#e00000"]},"legend":null},"strokeDash":{"field":"c","type":"nominal","scale":{"domain":["e","w"],"range":[[1,0],[7,4]]},"legend":null}}}
 ]},
{"width":196,"height":170,
 "encoding":{
  "x":{"field":"x","type":"quantitative","scale":{"domain":[-160,-10],"nice":false,"zero":false},"axis":{"values":[-150,-100,-50],"format":"d","title":"Prepulse Potential (mV)","titleX":228,"titleY":56,"titleBaseline":"alphabetic"}},
  "y":{"field":"y","type":"quantitative","scale":{"domain":[0,1.2],"nice":false},"axis":{"values":[0,0.5,1],"format":"~g","title":"Inactivation (I/Iₘₐₓ)","titleX":-47,"titleY":85,"titleBaseline":"alphabetic"}}},
 "layer":[
  {"data":{"name":"ide"},"mark":{"type":"square","size":5,"opacity":1,"color":"#000000"}},
  {"data":{"name":"idw"},"mark":{"type":"square","size":5,"opacity":1,"color":"#e00000"}},
  {"data":{"name":"if"},"mark":{"type":"line","strokeWidth":2.5,"interpolate":"monotone"},"encoding":{"color":{"field":"c","type":"nominal","scale":{"domain":["e","w"],"range":["#000000","#e00000"]},"legend":null}}}
 ]},
{"width":196,"height":170,
 "encoding":{
  "x":{"field":"x","type":"quantitative","scale":{"domain":[-160,-10],"nice":false,"zero":false},"axis":{"values":[-150,-100,-50],"format":"d","title":null}},
  "y":{"field":"y","type":"quantitative","scale":{"domain":[0,1.2],"nice":false},"axis":{"values":[0,0.5,1],"format":"~g","title":null}}},
 "layer":[
  {"data":{"name":"im"},"mark":{"type":"line","strokeWidth":2.2,"interpolate":"monotone"},"encoding":{"color":{"field":"c","type":"nominal","scale":{"domain":["e","w"],"range":["#000000","#e00000"]},"legend":null},"strokeDash":{"field":"c","type":"nominal","scale":{"domain":["e","w"],"range":[[1,0],[7,4]]},"legend":null}}}
 ]},
{"width":196,"height":170,
 "encoding":{
  "x":{"field":"x","type":"quantitative","scale":{"domain":[0,25],"nice":false,"zero":false},"axis":{"values":[0,10,20],"format":"d","title":"Inter-pulse Interval (ms)","titleX":228,"titleY":56,"titleBaseline":"alphabetic"}},
  "y":{"field":"y","type":"quantitative","scale":{"domain":[0,1.1],"nice":false},"axis":{"values":[0,0.5,1],"format":"~g","title":"Recovery (I₂/I₁)","titleX":-47,"titleY":85,"titleBaseline":"alphabetic"}}},
 "layer":[
  {"data":{"name":"rde"},"mark":{"type":"square","size":5,"opacity":1,"color":"#000000"}},
  {"data":{"name":"rdw"},"mark":{"type":"square","size":5,"opacity":1,"color":"#e00000"}},
  {"data":{"name":"rf"},"mark":{"type":"line","strokeWidth":2.5,"interpolate":"monotone"},"encoding":{"color":{"field":"c","type":"nominal","scale":{"domain":["e","w"],"range":["#000000","#e00000"]},"legend":null}}}
 ]},
{"width":196,"height":170,
 "encoding":{
  "x":{"field":"x","type":"quantitative","scale":{"domain":[0,25],"nice":false,"zero":false},"axis":{"values":[0,10,20],"format":"d","title":null}},
  "y":{"field":"y","type":"quantitative","scale":{"domain":[0,1.1],"nice":false},"axis":{"values":[0,0.5,1],"format":"~g","title":null}}},
 "layer":[
  {"data":{"name":"rm"},"mark":{"type":"line","strokeWidth":2.2,"interpolate":"monotone"},"encoding":{"color":{"field":"c","type":"nominal","scale":{"domain":["e","w"],"range":["#000000","#e00000"]},"legend":null},"strokeDash":{"field":"c","type":"nominal","scale":{"domain":["e","w"],"range":[[1,0],[7,4]]},"legend":null}}}
 ]}
],
"config":{
 "font":"Liberation Sans",
 "view":{"stroke":null},
 "axis":{"grid":false,"domainColor":"#262626","domainWidth":1.3,"tickColor":"#262626","tickSize":-4,"tickWidth":1.2,"labelFont":"Liberation Sans","labelFontSize":16,"labelColor":"#262626","labelFlush":false,"labelOverlap":false,"titleFont":"Liberation Sans","titleFontSize":18,"titleFontWeight":"normal","titleColor":"#262626"},
 "axisX":{"labelPadding":20},
 "axisY":{"labelPadding":14},
 "title":{"font":"Liberation Sans","fontSize":18,"fontWeight":"bold","color":"#000000","baseline":"alphabetic","offset":-5,"anchor":"middle","frame":"group"}
}
}
